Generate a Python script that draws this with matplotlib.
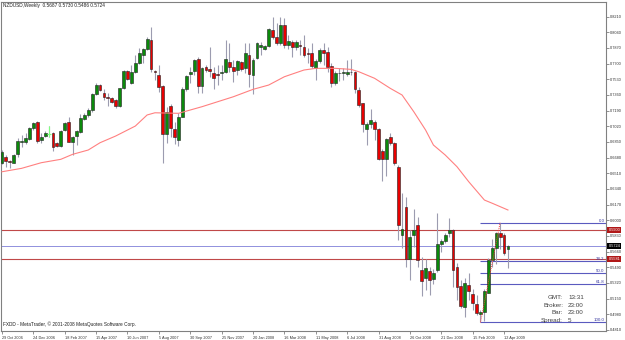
import matplotlib
matplotlib.use("Agg")
import matplotlib.pyplot as plt
import matplotlib.transforms as mtransforms

# weekly NZDUSD candles (bar 0 = 29 Oct 2006)
opens = [0.6618, 0.6683, 0.6647, 0.6625, 0.6719, 0.6846, 0.6846, 0.6878, 0.6998, 0.7063,
         0.6871, 0.6918, 0.6936, 0.6951, 0.6835, 0.6810, 0.6980, 0.7063, 0.6853, 0.6915,
         0.6962, 0.7099, 0.7142, 0.7197, 0.7370, 0.7468, 0.7377, 0.7341, 0.7323, 0.7305,
         0.7240, 0.7432, 0.7620, 0.7486, 0.7613, 0.7703, 0.7793, 0.7855, 0.7956, 0.7620,
         0.7576, 0.7461, 0.6936, 0.7240, 0.6987, 0.6871, 0.7124, 0.7421, 0.7587, 0.7624,
         0.7750, 0.7457, 0.7667, 0.7641, 0.7594, 0.7587, 0.7594, 0.7613, 0.7721, 0.7667,
         0.7631, 0.7721, 0.7649, 0.7793, 0.7576, 0.7757, 0.7884, 0.7855, 0.7891, 0.8065,
         0.7992, 0.7920, 0.8119, 0.7902, 0.7938, 0.7884, 0.7902, 0.7884, 0.7819, 0.7811,
         0.7649, 0.7728, 0.7848, 0.7830, 0.7674, 0.7493, 0.7602, 0.7602, 0.7587, 0.7613,
         0.7613, 0.7414, 0.7269, 0.6987, 0.7045, 0.7070, 0.6987, 0.6755, 0.6661, 0.6900,
         0.6835, 0.6582, 0.5840, 0.6148, 0.5577, 0.5841, 0.5949, 0.5461, 0.5370, 0.5454,
         0.5360, 0.5461, 0.5743, 0.5779, 0.5866, 0.5895, 0.5497, 0.5287, 0.5063, 0.5298,
         0.5200, 0.5092, 0.4983, 0.5009, 0.5215, 0.5569, 0.5696, 0.5859, 0.5841, 0.5687]
highs = [0.6763, 0.6708, 0.6654, 0.6719, 0.6889, 0.6925, 0.6943, 0.7016, 0.7070, 0.7077,
         0.6943, 0.6969, 0.7023, 0.6962, 0.6853, 0.6980, 0.7070, 0.7117, 0.6915, 0.6980,
         0.7150, 0.7160, 0.7215, 0.7377, 0.7486, 0.7475, 0.7421, 0.7377, 0.7341, 0.7312,
         0.7439, 0.7631, 0.7631, 0.7685, 0.7793, 0.7866, 0.7866, 0.7992, 0.8101, 0.7631,
         0.7685, 0.7468, 0.7233, 0.7262, 0.7070, 0.7160, 0.7443, 0.7576, 0.7667, 0.7746,
         0.7768, 0.7667, 0.7685, 0.7876, 0.7667, 0.7685, 0.7685, 0.7956, 0.7927, 0.7739,
         0.7739, 0.7732, 0.7920, 0.7927, 0.7757, 0.7938, 0.7938, 0.7902, 0.8083, 0.8202,
         0.8137, 0.8202, 0.8191, 0.8010, 0.7956, 0.7956, 0.7956, 0.8010, 0.7866, 0.7927,
         0.7746, 0.7866, 0.7920, 0.7876, 0.7703, 0.7623, 0.7649, 0.7649, 0.7739, 0.7746,
         0.7623, 0.7443, 0.7276, 0.7070, 0.7204, 0.7088, 0.6998, 0.6770, 0.6889, 0.6943,
         0.6853, 0.6600, 0.6300, 0.6256, 0.5895, 0.6119, 0.6039, 0.5606, 0.5577, 0.5497,
         0.5468, 0.6076, 0.5793, 0.5859, 0.6021, 0.5902, 0.5533, 0.5352, 0.5370, 0.5425,
         0.5251, 0.5190, 0.5027, 0.5251, 0.5587, 0.5793, 0.5877, 0.5974, 0.5859, 0.5730]
lows = [0.6611, 0.6582, 0.6571, 0.6618, 0.6690, 0.6799, 0.6828, 0.6871, 0.6980, 0.6842,
        0.6835, 0.6907, 0.6900, 0.6755, 0.6799, 0.6799, 0.6972, 0.6846, 0.6708, 0.6817,
        0.6951, 0.7088, 0.7124, 0.7179, 0.7359, 0.7406, 0.7305, 0.7240, 0.7269, 0.7222,
        0.7233, 0.7421, 0.7522, 0.7479, 0.7602, 0.7696, 0.7703, 0.7848, 0.7612, 0.7522,
        0.7396, 0.6625, 0.6835, 0.6900, 0.6828, 0.6810, 0.7117, 0.7406, 0.7486, 0.7576,
        0.7385, 0.7377, 0.7613, 0.7551, 0.7421, 0.7468, 0.7522, 0.7602, 0.7613, 0.7504,
        0.7576, 0.7623, 0.7594, 0.7450, 0.7370, 0.7746, 0.7797, 0.7848, 0.7884, 0.7963,
        0.7902, 0.7902, 0.7866, 0.7855, 0.7775, 0.7848, 0.7793, 0.7775, 0.7703, 0.7649,
        0.7522, 0.7703, 0.7685, 0.7613, 0.7443, 0.7468, 0.7515, 0.7522, 0.7566, 0.7576,
        0.7377, 0.7233, 0.6962, 0.6817, 0.7002, 0.6871, 0.6654, 0.6430, 0.6481, 0.6817,
        0.6600, 0.5786, 0.5695, 0.5497, 0.5352, 0.5714, 0.5497, 0.5179, 0.5244, 0.5187,
        0.5309, 0.5443, 0.5660, 0.5757, 0.5822, 0.5280, 0.5135, 0.5045, 0.4954, 0.5135,
        0.5027, 0.4973, 0.4893, 0.4911, 0.5208, 0.5497, 0.5526, 0.5685, 0.5623, 0.5486]
closes = [0.6745, 0.6647, 0.6629, 0.6708, 0.6864, 0.6860, 0.6889, 0.6998, 0.7052, 0.6860,
          0.6907, 0.6951, 0.6936, 0.6799, 0.6810, 0.6969, 0.7052, 0.6853, 0.6900, 0.6969,
          0.7106, 0.7142, 0.7197, 0.7367, 0.7468, 0.7414, 0.7341, 0.7330, 0.7287, 0.7240,
          0.7432, 0.7623, 0.7533, 0.7613, 0.7703, 0.7811, 0.7855, 0.7963, 0.7638, 0.7609,
          0.7450, 0.6936, 0.7179, 0.7005, 0.6900, 0.7124, 0.7421, 0.7566, 0.7613, 0.7739,
          0.7457, 0.7649, 0.7631, 0.7620, 0.7540, 0.7573, 0.7613, 0.7746, 0.7667, 0.7623,
          0.7728, 0.7638, 0.7811, 0.7587, 0.7739, 0.7920, 0.7902, 0.7891, 0.8075, 0.7985,
          0.7920, 0.8119, 0.7902, 0.7949, 0.7884, 0.7938, 0.7895, 0.7793, 0.7804, 0.7674,
          0.7728, 0.7848, 0.7819, 0.7667, 0.7486, 0.7602, 0.7594, 0.7613, 0.7613, 0.7609,
          0.7421, 0.7251, 0.7045, 0.7045, 0.7088, 0.6987, 0.6661, 0.6661, 0.6878, 0.6835,
          0.6618, 0.5949, 0.5905, 0.5577, 0.5815, 0.5895, 0.5569, 0.5341, 0.5479, 0.5352,
          0.5432, 0.5743, 0.5775, 0.5841, 0.5895, 0.5461, 0.5280, 0.5070, 0.5316, 0.5237,
          0.5106, 0.4991, 0.5009, 0.5237, 0.5569, 0.5696, 0.5859, 0.5815, 0.5642, 0.5724]

# moving average, read at a few bars
ma_bar = [0, 5, 10, 15, 18, 22, 25, 29, 34, 37, 39, 45, 51, 55, 59, 64, 68, 72, 77, 80,
          85, 89, 91, 95, 99, 102, 105, 108, 110, 113, 116, 119, 123, 125, 129]
ma_val = [0.6527, 0.6564, 0.6625, 0.6662, 0.6716, 0.6763, 0.6842, 0.6915, 0.7023, 0.7143,
          0.7167, 0.7161, 0.7233, 0.7287, 0.7341, 0.7421, 0.7468, 0.7558, 0.7631, 0.7649,
          0.7649, 0.7638, 0.7612, 0.7541, 0.7432, 0.7360, 0.7178, 0.6980, 0.6817, 0.6709,
          0.6582, 0.6419, 0.6220, 0.6185, 0.6112]

date_bars = [0, 8, 16, 24, 32, 40, 48, 56, 64, 72, 80, 88, 96, 104, 112, 120, 128]
date_labels = ["29 Oct 2006", "24 Dec 2006", "18 Feb 2007", "15 Apr 2007", "10 Jun 2007",
               "5 Aug 2007", "30 Sep 2007", "25 Nov 2007", "20 Jan 2008", "16 Mar 2008",
               "11 May 2008", "6 Jul 2008", "31 Aug 2008", "26 Oct 2008", "21 Dec 2008",
               "15 Feb 2009", "12 Apr 2009"]
price_ticks = [0.4810, 0.4980, 0.5150, 0.5320, 0.5490, 0.5660, 0.5830, 0.6000, 0.6170,
               0.6340, 0.6510, 0.6680, 0.6850, 0.7020, 0.7190, 0.7360, 0.7530, 0.7700,
               0.7870, 0.8040, 0.8210]

red_levels = [0.5900, 0.5581]
bid_level = 0.5724
fib_low_bar, fib_low = 122, 0.4893
fib_high_bar, fib_high = 127, 0.5974
fib_pcts = [0.0, 38.2, 50.0, 61.8, 100.0]
info_keys = ["GMT:", "Broker:", "Bar:", "Spread:"]
info_vals = ["13:31", "23:00", "23:00", "5"]

plt.rcParams['font.family'] = ['Liberation Sans', 'DejaVu Sans']

fig = plt.figure(figsize=(6.25, 3.4), dpi=100)
ax = fig.add_axes([1 / 625, 9 / 340, 605 / 625, 329 / 340])
ax.set_xlim(-0.25, 154.0)
ax.set_ylim(0.4799, 0.8369)

# candles
for i in range(len(opens)):
    o, h, l, c = opens[i], highs[i], lows[i], closes[i]
    ax.vlines(i, l, h, color='#9c9cb0', lw=0.8, zorder=2)
    if o == c:
        ax.hlines(o, i - 0.4, i + 0.4, color='#80ff80', lw=0.8, zorder=3)
        ax.vlines(i, l, h, color='#80ff80', lw=0.8, zorder=3)
        continue
    col = '#0b8a0b' if c > o else '#e80000'
    ax.bar(i, abs(c - o), bottom=min(o, c), width=0.72, color=col,
           edgecolor='#202020', linewidth=0.4, zorder=3)

ax.plot(ma_bar, ma_val, color='#ff8080', lw=0.8, zorder=4)

for lv in red_levels:
    ax.axhline(lv, color='#c04848', lw=0.8, zorder=1)
ax.axhline(bid_level, color='#9090dd', lw=0.7, zorder=1)

# fibonacci retracement
rng = fib_high - fib_low
for p in fib_pcts:
    lv = fib_high - rng * p / 100
    ax.hlines(lv, fib_low_bar, 154.0, color='#5a5abf', lw=0.8, zorder=1)
    ax.text(153.6, lv, f"{p:.1f}", ha='right', va='bottom', fontsize=3.2,
            color='#3a3aa0')
ax.plot([fib_low_bar, fib_high_bar], [fib_low, fib_high], color='#ff4040',
        lw=0.7, ls=(0, (1, 1)), zorder=4)

# axes styling
for s in ax.spines.values():
    s.set_color('#808080')
    s.set_linewidth(0.8)
ax.yaxis.tick_right()
ax.set_yticks(price_ticks)
ax.set_yticklabels([f"{v:.4f}" for v in price_ticks])
ax.tick_params(axis='y', length=2, width=0.6, pad=1, labelsize=2.8,
               colors='#808080', labelcolor='#303030')
ax.set_xticks(date_bars)
ax.set_xticklabels(date_labels, ha='left')
ax.tick_params(axis='x', length=2.5, width=0.6, pad=0.8, labelsize=2.8,
               colors='#808080', labelcolor='#303030')

# price boxes on the axis
tr = mtransforms.blended_transform_factory(ax.transAxes, ax.transData)
for lv in red_levels:
    ax.text(1.004, lv, f"{lv:.4f}", transform=tr, ha='left', va='center', fontsize=2.8,
            color='white', bbox=dict(boxstyle='square,pad=0.25', fc='#b01818', ec='none'))
ax.text(1.004, bid_level, f"{bid_level:.4f}", transform=tr, ha='left', va='center',
        fontsize=2.8, color='white',
        bbox=dict(boxstyle='square,pad=0.25', fc='#000000', ec='none'))

fig.text(3 / 625, 1 - 5.5 / 340,
         "NZDUSD,Weekly  %.4f %.4f %.4f %.4f" % (opens[-1], highs[-1], lows[-1], closes[-1]),
         ha='left', va='center', fontsize=3.4, color='#202020')
fig.text(3 / 625, 1 - 324 / 340, "FXDD - MetaTrader, \u00a9 2001-2008 MetaQuotes Software Corp.",
         ha='left', va='center', fontsize=3.4, color='#202020')

info_y = [297.7, 305.3, 313.0, 320.7]
for k, v, y in zip(info_keys, info_vals, info_y):
    fig.text(563 / 625, 1 - y / 340, k, ha='right', va='center', fontsize=4.5, color='#404040')
    fig.text(568 / 625, 1 - y / 340, v, ha='left', va='center', fontsize=4.5, color='#404040')

fig.savefig("out.png", dpi=100, facecolor='white')
